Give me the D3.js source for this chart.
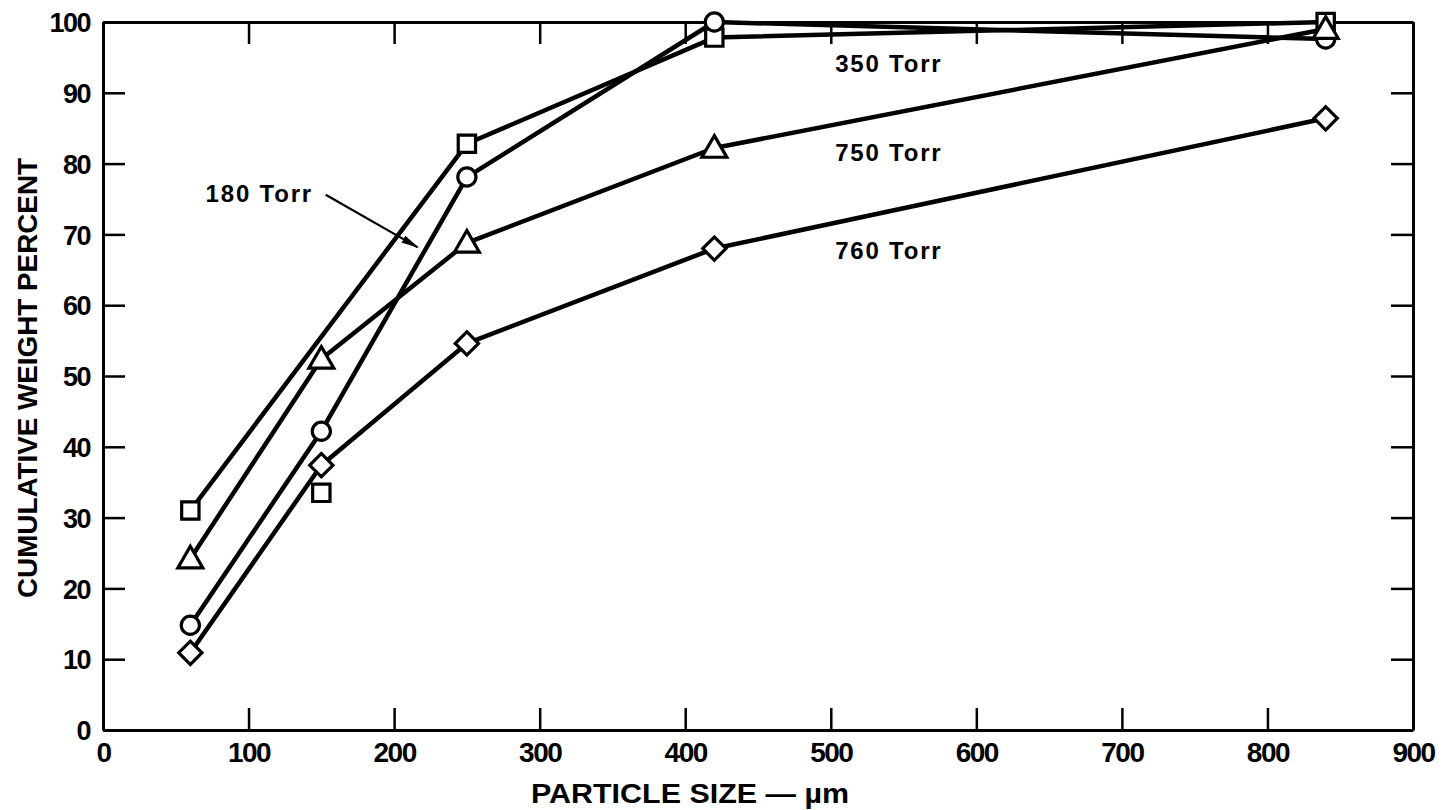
<!DOCTYPE html>
<html>
<head>
<meta charset="utf-8">
<script src="https://cdn.jsdelivr.net/npm/d3@7"></script>
<style>
  body { margin: 0; background: #fff; }
  svg { display: block; font-family: "Liberation Sans", Arial, sans-serif; font-weight: bold; }
</style>
</head>
<body>
<div id="chart"></div>
<script>
// particle sizes (um) and cumulative weight percent per pressure
const sizes = [60, 150, 250, 420, 840];
const torr350 = [31, 33.5, 82.8, 97.8, 100];   // squares
const torr180 = [14.8, 42.2, 78.1, 100, 97.6]; // circles
const torr750 = [24.2, 52.4, 68.8, 82.2, 99];  // triangles
const torr760 = [10.9, 37.4, 54.6, 68, 86.4];  // diamonds
const squareLinePoints = [true, false, true, true, true]; // 150 um square point is not on the line

const xTicks = [0, 100, 200, 300, 400, 500, 600, 700, 800, 900];
const yTicks = [0, 10, 20, 30, 40, 50, 60, 70, 80, 90, 100];

const width = 1442, height = 810;
const x = d3.scaleLinear().domain([0, 900]).range([103, 1413]);
const y = d3.scaleLinear().domain([0, 100]).range([730, 22]);

const svg = d3.select('#chart').append('svg')
  .attr('width', width)
  .attr('height', height);

// axes, ticks pointing inward
const tick = 22;
const gx = svg.append('g').attr('transform', `translate(0,${y(0)})`)
  .call(d3.axisBottom(x).tickValues(xTicks).tickSizeInner(-tick).tickSizeOuter(0).tickPadding(12));
const gxTop = svg.append('g').attr('transform', `translate(0,${y(100)})`)
  .call(d3.axisTop(x).tickValues(xTicks).tickSizeInner(-tick).tickSizeOuter(0).tickFormat(''));
const gy = svg.append('g').attr('transform', `translate(${x(0)},0)`)
  .call(d3.axisLeft(y).tickValues(yTicks).tickSizeInner(-tick).tickSizeOuter(0).tickPadding(13));
const gyRight = svg.append('g').attr('transform', `translate(${x(900)},0)`)
  .call(d3.axisRight(y).tickValues(yTicks).tickSizeInner(-tick).tickSizeOuter(0).tickFormat(''));

[gx, gxTop, gy, gyRight].forEach(g => {
  g.attr('font-family', null).attr('font-size', null);
  g.select('.domain').attr('stroke', '#000').attr('stroke-width', 3);
  g.selectAll('.tick line').attr('stroke', '#000').attr('stroke-width', 2.5);
  g.selectAll('.tick text').attr('fill', '#000');
});
gx.selectAll('.tick text').style('font-size', '28px').style('letter-spacing', '-1.5px');
gy.selectAll('.tick text').style('font-size', '27px').style('letter-spacing', '-1.5px').attr('dy', '0.36em');

// axis titles
svg.append('text')
  .attr('x', 690).attr('y', 803)
  .attr('text-anchor', 'middle')
  .attr('textLength', 318).attr('lengthAdjust', 'spacingAndGlyphs')
  .style('font-size', '27px')
  .text('PARTICLE SIZE \u2014 \u00b5m');

svg.append('text')
  .attr('transform', 'translate(37,378) rotate(-90)')
  .attr('text-anchor', 'middle')
  .attr('textLength', 440).attr('lengthAdjust', 'spacingAndGlyphs')
  .style('font-size', '27px')
  .text('CUMULATIVE WEIGHT PERCENT');

// series
const series = [
  { name: '350 Torr', vals: torr350, shape: 'square', defined: squareLinePoints },
  { name: '180 Torr', vals: torr180, shape: 'circle' },
  { name: '750 Torr', vals: torr750, shape: 'triangle' },
  { name: '760 Torr', vals: torr760, shape: 'diamond' }
];

const line = d3.line()
  .x(d => x(d.s))
  .y(d => y(d.v));

series.forEach(sr => {
  const pts = sizes.map((s, i) => ({ s, v: sr.vals[i], on: sr.defined ? sr.defined[i] : true }));
  svg.append('path')
    .datum(pts.filter(p => p.on))
    .attr('fill', 'none')
    .attr('stroke', '#000')
    .attr('stroke-width', 4.5)
    .attr('stroke-linejoin', 'round')
    .attr('d', line);
  sr.pts = pts;
});

const shapes = {
  square: d3.symbol().type(d3.symbolSquare).size(300),
  circle: d3.symbol().type(d3.symbolCircle).size(260),
  triangle: d3.symbol().type(d3.symbolTriangle).size(270),
  diamond: d3.symbol().type(d3.symbolSquare).size(270)
};

series.forEach(sr => {
  svg.append('g').selectAll('path')
    .data(sr.pts)
    .enter()
    .append('path')
    .attr('transform', d => `translate(${x(d.s)},${y(d.v) + (sr.shape === 'triangle' ? 2 : 0)})` +
      (sr.shape === 'diamond' ? ' rotate(45)' : ''))
    .attr('d', shapes[sr.shape])
    .attr('fill', '#fff')
    .attr('stroke', '#000')
    .attr('stroke-width', 3.2);
});

// series labels
const labels = [
  { text: '350 Torr', x: 503, y: 93 },
  { text: '750 Torr', x: 503, y: 80.3 },
  { text: '760 Torr', x: 503, y: 66.5 },
  { text: '180 Torr', x: 70.5, y: 74.6 }
];
svg.selectAll('.lbl')
  .data(labels)
  .enter()
  .append('text')
  .attr('class', 'lbl')
  .attr('x', d => x(d.x))
  .attr('y', d => y(d.y))
  .style('font-size', '24px')
  .style('letter-spacing', '1.8px')
  .text(d => d.text);

// arrow from 180 Torr label to its curve
svg.append('defs').append('marker')
  .attr('id', 'arrow')
  .attr('viewBox', '0 0 10 10')
  .attr('refX', 9).attr('refY', 5)
  .attr('markerWidth', 18).attr('markerHeight', 8)
  .attr('orient', 'auto')
  .attr('markerUnits', 'userSpaceOnUse')
  .attr('preserveAspectRatio', 'none')
  .append('path')
  .attr('d', 'M0,0 L10,5 L0,10 z')
  .attr('fill', '#000');

svg.append('line')
  .attr('x1', x(153)).attr('y1', y(75.6))
  .attr('x2', x(216)).attr('y2', y(68.2))
  .attr('stroke', '#000')
  .attr('stroke-width', 2.2)
  .attr('marker-end', 'url(#arrow)');
</script>
</body>
</html>
